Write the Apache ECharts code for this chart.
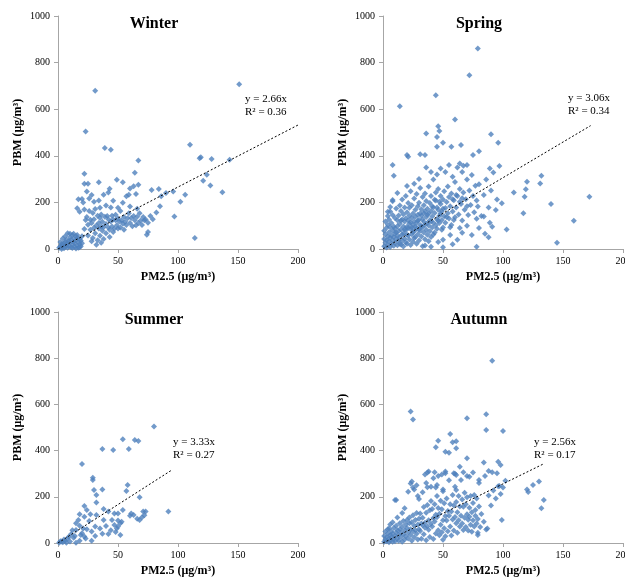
<!DOCTYPE html>
<html>
<head>
<meta charset="utf-8">
<script src="https://cdn.jsdelivr.net/npm/echarts@6/dist/echarts.min.js"></script>
<style>
  html, body { margin: 0; padding: 0; background: #fff; }
  #chart { width: 625px; height: 577px; }
</style>
</head>
<body>
<div id="chart"></div>
<script>
// season panels, fit slopes, R² and where each fit line stops (x)
const seasons = ['Winter', 'Spring', 'Summer', 'Autumn'];
const slopes = [2.66, 3.06, 3.33, 2.56];
const r2 = ['0.36', '0.34', '0.27', '0.17'];
const fitEnd = [200, 173, 94, 134];

// PM2.5 vs PBM points [x, y]
const winterPts = [
  [1,5],[2,12],[3,8],[3,20],[4,15],[5,25],[5,3],[6,10],[6,30],[7,18],[7,40],[8,5],[8,22],[9,35],[9,12],
  [10,28],[10,50],[11,8],[11,40],[12,18],[12,60],[13,30],[13,45],[14,10],[14,25],[15,38],[15,55],[16,15],
  [16,48],[17,30],[17,5],[18,20],[18,42],[19,12],[19,35],[20,25],[20,55],[2,30],[4,45],[6,55],[8,68],
  [10,65],[12,4],[15,2],[18,8],[3,0],[13,65],[16,60],
  [17,213],[16,175],[20,215],[22,170],[21,200],[18,160],
  [22,86],[23,124],[24,137],[25,58],[25,104],[26,163],[27,126],[27,83],[28,112],[29,47],[29,154],[30,91],
  [30,128],[31,68],[31,172],[32,101],[33,143],[33,38],[34,88],[34,112],[35,57],[35,133],[36,97],[36,148],
  [37,78],[37,117],[38,93],[38,43],[39,138],[40,107],[40,68],[41,142],[42,92],[42,128],[43,83],[43,52],
  [44,118],[45,97],[45,143],[46,73],[46,127],[47,87],[48,123],[48,147],[49,102],[50,88],[50,132],[51,118],
  [52,92],[52,163],[53,122],[54,108],[55,137],[55,83],[56,117],[57,103],[58,132],[59,153],[60,112],[61,133],
  [62,98],[63,142],[64,123],[65,102],[66,138],[67,112],[68,153],[69,122],[70,103],[71,137],[72,123],[73,127],
  [75,113],[77,142],[79,128],[82,157],[85,183],[28,33],[32,18],[36,27],[30,203],[26,217],[28,232],[24,247],
  [34,208],[40,187],[44,178],[50,177],[38,233],[46,207],[22,280],[54,198],[60,182],[66,173],[35,177],[42,243],
  [31,679],[151,707],[23,504],[39,433],[44,426],[110,447],[118,390],[119,394],[128,386],[143,383],[67,380],
  [22,323],[64,327],[124,319],[121,293],[127,273],[137,244],[106,233],[102,203],[97,140],[114,47],[74,61],
  [75,73],[49,297],[54,287],[34,286],[25,280],[43,259],[63,269],[67,276],[84,257],[90,240],[86,226],[96,247],
  [59,233],[57,226],[60,260],[78,253],[65,236]
];

const springPts = [
  [1,12],[1,43],[1,78],[2,27],[2,63],[2,118],[3,6],[3,38],[3,91],[4,17],[4,54],[4,104],[4,142],[5,33],[5,72],
  [5,127],[6,9],[6,48],[6,93],[6,161],[7,23],[7,58],[7,112],[8,38],[8,79],[8,146],[8,205],[9,14],[9,52],[9,97],
  [10,27],[10,66],[10,88],[10,133],[11,43],[11,71],[11,174],[12,16],[12,98],[12,123],[12,57],[13,37],[13,77],
  [13,144],[14,52],[14,108],[14,187],[14,22],[15,19],[15,84],[15,163],[15,122],[16,36],[16,62],[16,127],
  [16,212],[17,67],[17,97],[17,149],[17,11],[18,44],[18,118],[18,178],[18,84],[19,81],[19,132],[19,228],
  [19,28],[20,23],[20,96],[20,158],[20,61],[21,58],[21,123],[21,197],[21,91],[22,41],[22,143],[22,177],
  [22,109],[23,86],[23,114],[23,248],[23,17],[24,63],[24,133],[24,188],[24,92],[25,31],[25,102],[25,152],
  [25,72],[26,77],[26,118],[26,217],[26,47],[27,52],[27,138],[27,168],[27,97],[28,88],[28,113],[28,236],
  [28,22],[29,63],[29,147],[29,183],[29,121],[30,37],[30,126],[30,198],[30,84],[31,78],[31,103],[31,262],
  [31,152],[32,54],[32,143],[32,171],[32,97],[33,93],[33,128],[33,223],[33,12],[34,71],[34,117],[34,188],
  [34,153],[35,42],[35,162],[35,238],[35,104],[36,83],[36,137],[36,206],[37,61],[37,112],[37,173],[37,147],
  [38,101],[38,152],[38,268],[38,33],[39,76],[39,123],[39,197],[40,51],[40,163],[40,227],[40,118],[41,92],
  [41,139],[41,183],[42,113],[42,178],[42,298],[42,62],[43,71],[43,154],[43,211],[44,102],[44,208],[44,243],
  [45,128],[45,87],[45,178],[46,168],[46,258],[46,121],[47,112],[47,143],[47,203],[48,193],[48,228],[48,152],
  [49,124],[49,162],[49,83],[50,92],[50,212],[50,173],[51,141],[51,248],[52,176],[52,113],[53,202],[53,137],
  [54,153],[54,268],[55,131],[55,223],[56,184],[56,93],[57,103],[57,238],[58,161],[58,213],[59,209],[59,124],
  [60,136],[60,288],[61,178],[61,232],[62,228],[63,148],[64,258],[64,203],[65,193],[66,122],[66,218],[67,243],
  [68,168],[69,213],[70,298],[70,183],[71,146],[72,251],[73,189],[74,318],[75,228],[76,158],[77,271],[78,208],
  [79,182],[80,278],[82,142],[84,232],[86,298],[88,178],[90,251],[92,328],[95,212],
  [45,320],[48,345],[52,330],[55,360],[58,310],[62,350],[40,330],[36,350],[66,330],[70,360],[30,300],[26,280],
  [20,270],[12,240],[8,210],[6,180],[4,160],[58,20],[62,40],[66,70],[70,100],[74,60],[78,130],[56,60],[46,30],
  [40,10],[35,15],[50,40],[64,90],[80,90],[85,65],
  [79,860],[72,746],[44,660],[14,613],[60,556],[46,527],[47,506],[36,496],[45,481],[45,439],[50,456],[90,493],
  [96,456],[65,446],[57,439],[80,420],[75,403],[20,403],[21,396],[31,407],[35,403],[8,360],[9,314],[64,367],
  [67,357],[89,346],[97,356],[132,314],[131,281],[120,289],[119,256],[109,243],[118,224],[172,224],[140,193],
  [117,153],[159,121],[145,27],[103,84],[99,196],[88,50],[78,10],[50,7],[94,167],[89,113],[91,96],[84,139]
];

const summerPts = [
  [80,504],[54,449],[64,446],[67,442],[37,407],[46,403],[59,407],[20,342],[29,283],[29,273],[37,232],[30,229],
  [58,251],[57,225],[32,208],[68,198],[22,160],[32,175],[18,124],[24,143],[38,147],[42,136],[47,128],[50,128],
  [54,143],[61,128],[63,121],[71,136],[73,136],[92,136],[70,111],[68,100],[22,114],[17,100],[32,121],[15,85],
  [45,100],[50,97],[31,71],[35,63],[47,78],[49,63],[50,71],[40,74],[53,92],[24,59],[20,42],[21,63],[15,56],
  [11,39],[9,27],[13,23],[23,20],[42,39],[52,35],[31,30],[28,10],[18,10],[3,6],[6,10],[7,1],[10,6],[1,1],
  [15,1],[26,95],[28,50],[37,40],[44,55],[48,48],[52,85],[60,118],[66,105],[72,120],[38,100],[27,125],
  [18,75],[12,55],[5,15],[8,20],[14,30],[19,35],[22,28],[4,3],[2,8]
];

const autumnPts = [
  [1,5],[1,30],[2,15],[2,50],[3,8],[3,25],[4,40],[4,60],[5,3],[5,20],[6,35],[6,12],[7,50],[7,25],[8,5],
  [8,40],[9,18],[9,65],[10,30],[10,8],[11,45],[11,75],[12,20],[12,55],[13,10],[13,35],[14,60],[14,85],[15,25],
  [15,45],[16,5],[16,70],[17,38],[17,95],[18,15],[18,55],[19,80],[19,30],[20,65],[20,100],[21,20],[21,45],
  [22,85],[22,110],[23,35],[23,60],[24,10],[24,90],[25,50],[25,120],[26,75],[26,25],[27,100],[27,55],[28,40],
  [28,130],[29,80],[29,15],[30,60],[30,105],
  [31,52],[31,128],[32,84],[32,18],[33,77],[33,109],[34,38],[34,156],[35,88],[35,66],[36,131],[36,12],[37,72],
  [37,164],[38,57],[38,98],[39,142],[39,26],[40,83],[40,182],[41,71],[41,147],[42,108],[42,17],[43,93],
  [43,168],[44,41],[44,122],[45,112],[45,204],[46,55],[46,152],[47,34],[47,127],[48,79],[48,183],[49,146],
  [49,47],[50,99],[50,224],[51,64],[51,172],[52,29],[52,117],[53,97],[53,193],[54,139],[54,51],[55,118],
  [55,272],[56,71],[56,168],[57,136],[57,32],[58,102],[58,208],[59,162],[59,54],[60,113],[60,244],[61,86],
  [61,178],[62,44],[62,133],[63,98],[63,203],[64,71],[64,158],[65,118],[65,273],[66,84],[66,188],[67,56],
  [67,157],[68,109],[68,218],[69,69],[69,168],[70,124],[70,198],[71,101],[71,54],[72,153],[72,114],[73,203],
  [73,79],[74,133],[74,49],[75,173],[75,99],[76,71],[76,208],[77,118],[77,143],[78,84],[78,193],[79,44],
  [79,104],[80,158],[81,69],[82,126],[84,92],[86,58],[88,206],[90,162],[92,227],[94,193],[96,246],[98,212],
  [100,240],[102,270],[85,290],[80,260],[70,290],[64,330],[60,300],[52,310],[46,290],[42,280],[38,310],
  [36,260],[33,220],[30,190],[28,250],[25,240],[18,150],[16,130],[12,110],[8,90],[6,80],[10,186],[44,240],
  [91,789],[23,569],[25,535],[70,540],[86,557],[86,489],[100,485],[56,472],[46,443],[58,436],[61,440],
  [44,414],[52,395],[55,391],[61,410],[70,367],[84,348],[96,352],[98,338],[88,312],[91,306],[95,302],[43,306],
  [35,297],[37,305],[49,297],[52,302],[59,302],[61,294],[67,306],[75,305],[72,287],[80,273],[24,266],[23,258],
  [26,232],[37,241],[40,244],[45,251],[50,232],[61,229],[130,266],[125,251],[120,232],[121,221],[134,186],
  [132,150],[97,247],[99,100],[87,63],[79,35],[50,14],[21,222],[29,203],[11,186],[5,63]
];

const pointSets = [winterPts, springPts, summerPts, autumnPts];

const serif = '"Liberation Serif", "DejaVu Serif", serif';
const grids = [
  { left: 58, top: 16, width: 240, height: 233, outerBoundsMode: 'none' },
  { left: 383, top: 16, width: 240, height: 233, outerBoundsMode: 'none' },
  { left: 58, top: 312, width: 240, height: 231, outerBoundsMode: 'none' },
  { left: 383, top: 312, width: 240, height: 231, outerBoundsMode: 'none' }
];
// equation label anchors (left, top) in px
const eqPos = [[245, 93], [568, 92], [173, 436], [534, 436]];
const axisGray = '#a6a6a6';

const xAxes = grids.map((g, i) => ({
  type: 'value', gridIndex: i, min: 0, max: 200, interval: 50,
  name: 'PM2.5 (μg/m³)', nameLocation: 'middle', nameGap: 22,
  nameTextStyle: { fontFamily: serif, fontWeight: 'bold', fontSize: 12, color: '#000' },
  axisLine: { lineStyle: { color: axisGray } },
  axisTick: { show: true, length: 4, lineStyle: { color: axisGray } },
  axisLabel: { fontFamily: serif, fontSize: 10, color: '#000', margin: 7, formatter: v => String(v) },
  splitLine: { show: false }
}));

const yAxes = grids.map((g, i) => ({
  type: 'value', gridIndex: i, min: 0, max: 1000, interval: 200,
  name: 'PBM (μg/m³)', nameLocation: 'middle', nameGap: 34,
  nameTextStyle: { fontFamily: serif, fontWeight: 'bold', fontSize: 12, color: '#000' },
  axisLine: { show: true, lineStyle: { color: axisGray } },
  axisTick: { show: true, length: 4, lineStyle: { color: axisGray } },
  axisLabel: { fontFamily: serif, fontSize: 10, color: '#000', margin: 8, formatter: v => String(v) },
  splitLine: { show: false }
}));

const series = [];
seasons.forEach((s, i) => {
  series.push({
    name: s, type: 'scatter', xAxisIndex: i, yAxisIndex: i,
    data: pointSets[i], symbol: 'diamond', symbolSize: 6,
    itemStyle: { color: '#4f81bd' }
  });
  series.push({
    name: s + ' fit', type: 'line', xAxisIndex: i, yAxisIndex: i,
    data: [[0, 0], [fitEnd[i], slopes[i] * fitEnd[i]]],
    showSymbol: false, symbol: 'none', z: 5,
    lineStyle: { color: '#000', width: 1, type: [2, 2] }
  });
});

const titles = seasons.map((s, i) => ({
  text: s, left: grids[i].left + grids[i].width * 0.4, top: grids[i].top,
  textAlign: 'center', padding: 0,
  textStyle: { fontFamily: serif, fontWeight: 'bold', fontSize: 16, color: '#000' }
}));

const graphic = seasons.map((s, i) => ({
  type: 'text', left: eqPos[i][0], top: eqPos[i][1], z: 10,
  style: {
    text: 'y = ' + slopes[i].toFixed(2) + 'x\nR² = ' + r2[i],
    font: '11px ' + serif, fill: '#000', lineHeight: 13
  }
}));

const chart = echarts.init(document.getElementById('chart'), null, { renderer: 'canvas' });
chart.setOption({
  backgroundColor: '#fff',
  animation: false,
  title: titles,
  grid: grids,
  xAxis: xAxes,
  yAxis: yAxes,
  series: series,
  graphic: graphic
});
</script>
</body>
</html>
